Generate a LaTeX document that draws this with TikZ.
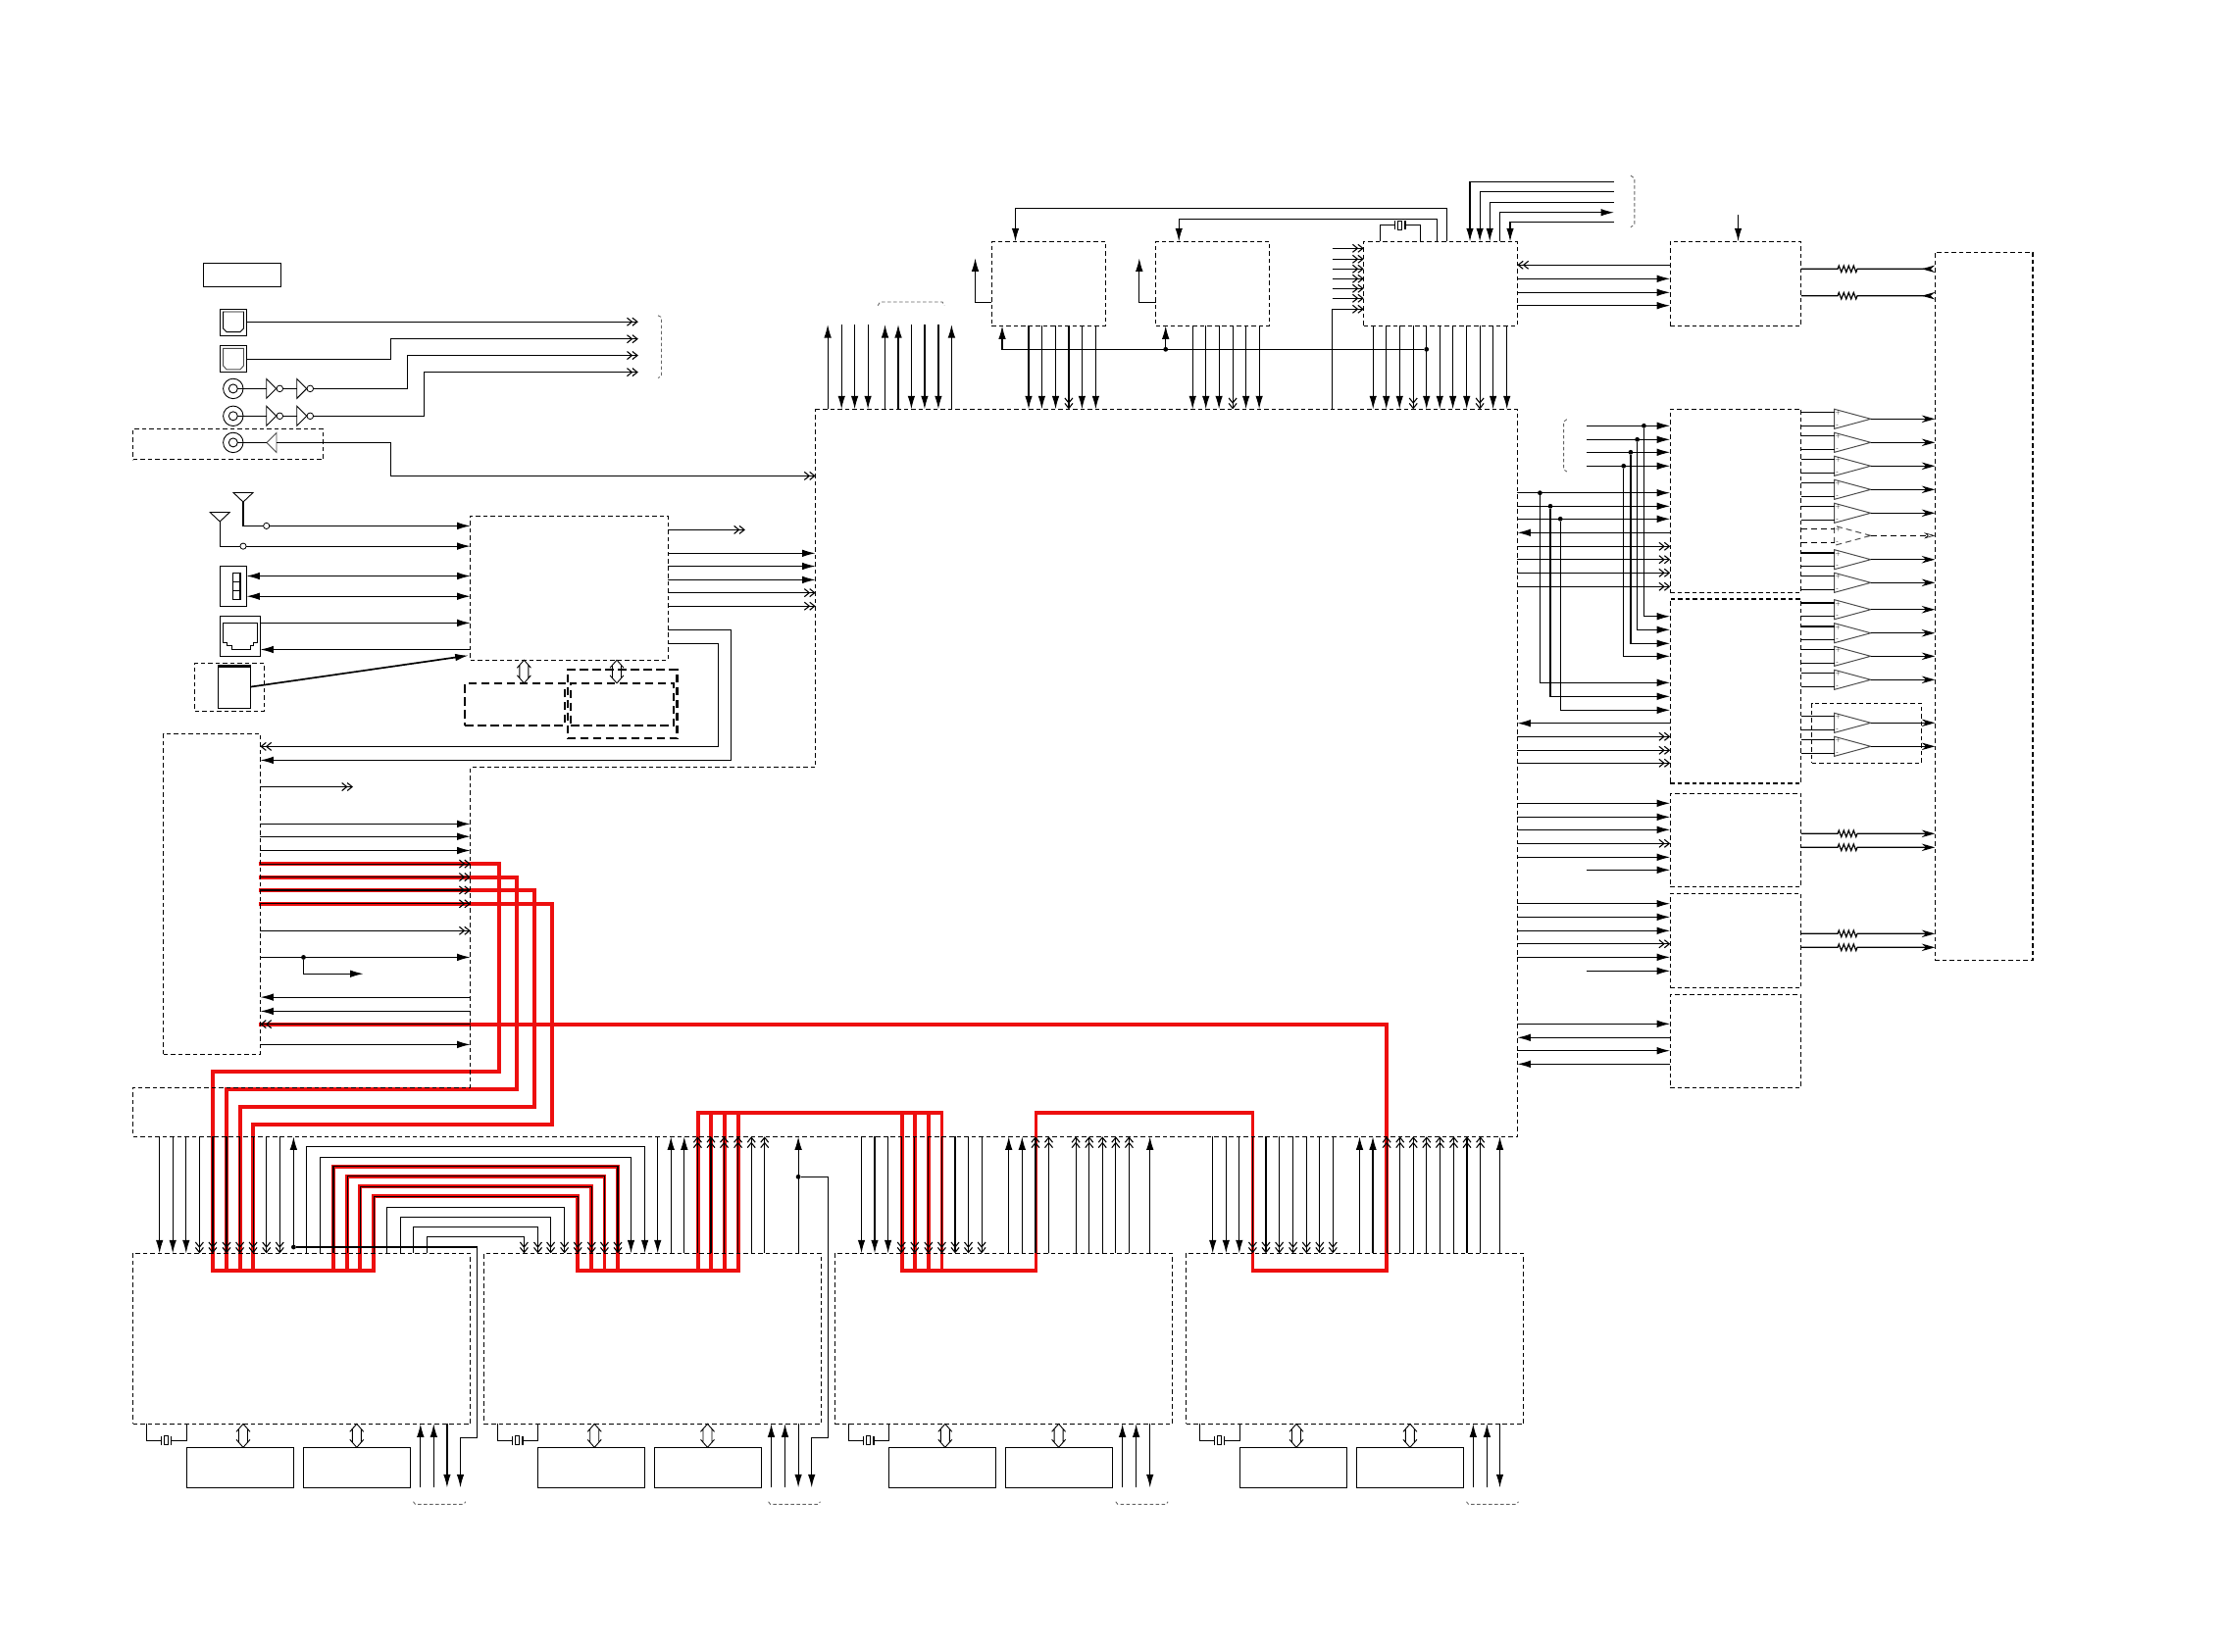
\documentclass[tikz,border=0pt]{standalone}
\usepackage{tikz}
\usetikzlibrary{arrows.meta,calc,shapes.geometric,decorations.pathmorphing}

\definecolor{hotred}{rgb}{0.93,0.06,0.06}

\newcommand{\bx}[6]{\node[#1, minimum width={(#5-#3)*0.1mm}, minimum height={(#6-#4)*0.1mm}] (#2) at ({(#3+#5)/2},{(#4+#6)/2}) {};}
\newcommand{\coax}[3]{\node[coaxo] (#1o) at (#2,#3) {}; \node[coaxi] (#1i) at (#2,#3) {};}
\newcommand{\inverter}[3]{\node[tri, anchor=lower side] (#1) at (#2,#3) {}; \node[bub] (#1b) at ({#2+13.6},#3) {};}
\newcommand{\xtal}[6]{\node[xt] (#1) at (#3,#4) {};
  \draw (#2 -| #5,0) |- ({#3-5.3},#4); \draw ({#3-5.3},{#4-4.5}) -- ({#3-5.3},{#4+4.5});
  \draw (#2 -| #6,0) |- ({#3+5.3},#4); \draw ({#3+5.3},{#4-4.5}) -- ({#3+5.3},{#4+4.5});}
\newcommand{\hol}[3]{\coordinate (holT) at (#2 -| #1,0); \coordinate (holB) at (#3 -| #1,0);
  \draw[line width=.09mm] ($(holT)+(-7,8)$) -- (holT) -- ($(holT)+(7,8)$)
    ($(holB)+(-7,-8)$) -- (holB) -- ($(holB)+(7,-8)$)
    ($(holT)+(-4.5,5.5)$) -- ($(holB)+(-4.5,-5.5)$)
    ($(holT)+(4.5,5.5)$) -- ($(holB)+(4.5,-5.5)$);}

\begin{document}
\begin{tikzpicture}[
  x=0.1mm, y=-0.1mm,
  line width=.12mm,
  every node/.style={inner sep=0pt, outer sep=0pt},
  dbox/.style={draw, dash pattern=on .45mm off .3mm},
  hbox/.style={draw, line width=.22mm, dash pattern=on .85mm off .45mm},
  sbox/.style={draw},
  dsh/.style={dash pattern=on .6mm off .4mm},
  sarr/.style={-{Latex[length=1.35mm,width=.75mm]}},
  sarrb/.style={{Latex[length=1.35mm,width=.75mm]}-{Latex[length=1.35mm,width=.75mm]}},
  darr/.style={-{Straight Barb[length=.5mm,width=.8mm,line width=.11mm,sep=-.1mm]Straight Barb[length=.5mm,width=.8mm,line width=.11mm]}},
  rarr/.style={-{Stealth[length=1.35mm,width=.75mm]}},
  oarr/.style={-{Stealth[length=1.1mm,width=.6mm,open,line width=.06mm]}},
  backarr/.style={-{Stealth[length=1.35mm,width=.75mm,reversed]}},
  redw/.style={draw=hotred, line width=.38mm, line join=miter, line cap=rect},
  brk/.style={draw=black!60, line width=.09mm, dash pattern=on .35mm off .25mm},
  dot/.style={circle, fill=black, minimum size=.48mm},
  ring/.style={circle, draw, fill=white, line width=.08mm, minimum size=.62mm},
  bub/.style={circle, draw, fill=white, line width=.08mm, minimum size=.66mm},
  coaxo/.style={circle, draw, line width=.09mm, minimum size=2.04mm},
  coaxi/.style={circle, draw, line width=.09mm, minimum size=.9mm},
  tri/.style={isosceles triangle, isosceles triangle stretches, draw, line width=.09mm, minimum height=1mm, minimum width=2mm},
  ampl/.style={isosceles triangle, isosceles triangle stretches, draw=black!70, line width=.1mm, minimum height=3.7mm, minimum width=2mm, anchor=lower side},
  ant/.style={isosceles triangle, isosceles triangle stretches, shape border rotate=-90, draw, line width=.09mm, minimum height=.95mm, minimum width=2mm, anchor=apex},
  xt/.style={draw, line width=.09mm, minimum width=.4mm, minimum height=.9mm},
  res/.style={decoration={zigzag, segment length=.5mm, amplitude=.33mm}},
  pm/.style={font=\fontsize{1.6}{2}\selectfont}
]
\useasboundingbox (0,0) rectangle (2268,1684);

\draw[redw]
  (265.4,881.1) -- (509.2,881.1) -- (509.2,1092.9) -- (217,1092.9) -- (217,1295.7) -- (381.3,1295.7) -- (381.3,1220.3) -- (589.2,1220.3) -- (589.2,1295.7) -- (753,1295.7) -- (753,1135) -- (711.9,1135) -- (711.9,1295.7)
  (265.4,894.6) -- (527.2,894.6) -- (527.2,1110.7) -- (231,1110.7) -- (231,1295.7)
  (265.4,907.9) -- (545.1,907.9) -- (545.1,1128.9) -- (244.6,1128.9) -- (244.6,1295.7)
  (265.4,921.8) -- (563,921.8) -- (563,1146.8) -- (258.1,1146.8) -- (258.1,1295.7)
  (340,1295.7) -- (340,1189.7) -- (630,1189.7) -- (630,1295.7)
  (354.1,1295.7) -- (354.1,1199.7) -- (616.4,1199.7) -- (616.4,1295.7)
  (367.2,1295.7) -- (367.2,1210.3) -- (603.3,1210.3) -- (603.3,1295.7)
  (725,1295.7) -- (725,1135) (739,1295.7) -- (739,1135)
  (711.9,1135) -- (960.4,1135) -- (960.4,1295.7) -- (920.2,1295.7) -- (920.2,1135)
  (933.2,1135) -- (933.2,1295.7) (946.8,1135) -- (946.8,1295.7)
  (960.4,1295.7) -- (1056.4,1295.7) -- (1056.4,1135) -- (1277.4,1135) -- (1277.4,1295.7) -- (1414.1,1295.7) -- (1414.1,1045) -- (265.4,1045);

\draw[dbox] (831.6,417.3) -- (1547.3,417.3) -- (1547.3,1159.3) -- (135.5,1159.3) -- (135.5,1109.3) -- (479.7,1109.3) -- (479.7,782.5) -- (831.6,782.5) -- cycle;
\coordinate (mainN) at (831.6,417.3);
\coordinate (mainW) at (831.6,782.5);
\coordinate (mainE) at (1547.3,1159.3);
\coordinate (mainS) at (135.5,1159.3);
\coordinate (mainL) at (479.7,1109.3);

\bx{sbox}{title}{207.3}{268.2}{286.7}{292.5}
\bx{sbox}{optA}{224.7}{315.4}{251.4}{342.5}
\bx{sbox}{optB}{224.7}{352.5}{251.4}{379.3}
\bx{dbox}{rearout}{135.5}{437.5}{329.4}{468.6}
\bx{dbox}{tuner}{479.7}{526.4}{681.3}{673.2}
\bx{sbox}{swit}{224.7}{577.5}{251.4}{618.2}
\bx{sbox}{swin}{237.3}{584.3}{245}{611.4}
\bx{sbox}{rj}{224.7}{628.2}{265.4}{669.6}
\bx{dbox}{cardw}{198.5}{676.4}{269.3}{725.4}
\bx{sbox}{card}{222.3}{679}{255.7}{722.1}
\bx{hbox}{memA}{474.3}{696.8}{575.6}{740}
\bx{hbox}{memB}{582}{696.8}{687}{740}
\bx{hbox}{memW}{578.6}{682.9}{690.5}{753.2}
\bx{dbox}{dsp}{166.5}{748.2}{265.4}{1075.4}
\bx{dbox}{boxA}{1011.4}{246.3}{1127.5}{332.3}
\bx{dbox}{boxB}{1178.6}{246.3}{1294.7}{332.3}
\bx{dbox}{boxC}{1390.7}{246.3}{1547.3}{332.3}
\bx{dbox}{boxD}{1703.2}{246.3}{1836.8}{332.3}
\bx{dbox}{boxE}{1973.2}{257.3}{2072.9}{979.3}
\bx{dbox}{boxF}{1703.2}{417.3}{1836.8}{604.3}
\bx{dbox}{boxG}{1703.2}{611}{1836.8}{799}
\bx{dbox}{boxH}{1703.2}{809.3}{1836.8}{904.3}
\bx{dbox}{boxI}{1703.2}{911.3}{1836.8}{1007.7}
\bx{dbox}{boxJ}{1703.2}{1014.3}{1836.8}{1109.3}
\bx{dbox}{ampw}{1847.5}{717.3}{1959.6}{778.3}
\bx{dbox}{dec1}{135.5}{1278.3}{479.7}{1452.3}
\bx{dbox}{dec2}{493.7}{1278.3}{837.4}{1452.3}
\bx{dbox}{dec3}{851.3}{1278.3}{1195.5}{1452.3}
\bx{dbox}{dec4}{1209.5}{1278.3}{1553.7}{1452.3}
\bx{sbox}{ram1a}{190.3}{1476.3}{299.4}{1517.3}
\bx{sbox}{ram1b}{309.5}{1476.3}{418.6}{1517.3}
\bx{sbox}{ram2a}{548.5}{1476.3}{657.6}{1517.3}
\bx{sbox}{ram2b}{667.7}{1476.3}{776.3}{1517.3}
\bx{sbox}{ram3a}{906.6}{1476.3}{1015.7}{1517.3}
\bx{sbox}{ram3b}{1025.3}{1476.3}{1134.4}{1517.3}
\bx{sbox}{ram4a}{1264.3}{1476.3}{1373.4}{1517.3}
\bx{sbox}{ram4b}{1383.6}{1476.3}{1492.6}{1517.3}

\draw[line width=.09mm] (227.6,318) -- (248.5,318) -- (248.5,335) -- (245,338.6) -- (231,338.6) -- (227.6,335) -- cycle;
\draw[line width=.09mm, draw=black!70] (227.6,355.4) -- (248.5,355.4) -- (248.5,373) -- (245,376.8) -- (231,376.8) -- (227.6,373) -- cycle;
\draw[line width=.09mm] (227.6,635.4) -- (262,635.4) -- (262,655) -- (258.6,655) -- (258.6,658.6) -- (255.7,658.6) -- (255.7,662.5) -- (236.3,662.5) -- (236.3,658.6) -- (231.5,658.6) -- (231.5,655) -- (227.6,655) -- cycle;
\draw (swin.west |- 0,593.3) -- (swin.east |- 0,593.3);
\draw (swin.west |- 0,602.4) -- (swin.east |- 0,602.4);
\draw[line width=.3mm] (card.north west) -- (card.north east);

\coax{coaxA}{237.8}{396.4}
\coax{coaxB}{237.8}{424.3}
\coax{coaxC}{237.8}{451.4}
\inverter{invA}{271.7}{396.4}
\inverter{invB}{302.7}{396.4}
\inverter{invC}{271.7}{424.3}
\inverter{invD}{302.7}{424.3}
\node[tri, shape border rotate=180, anchor=lower side, draw=black!70] (drv) at (282,451.4) {};

\draw[darr] (optA.east |- 0,328.2) -- (650.8,328.2);
\draw[darr] (optB.east |- 0,366.4) -| (398.7,345.7) -- (650.8,345.7);
\draw (coaxAi.east) -- (invA.lower side);
\draw (invAb.east) -- (invB.lower side);
\draw[darr] (invBb.east) -| (415.7,362.5) -- (650.8,362.5);
\draw (coaxBi.east) -- (invC.lower side);
\draw (invCb.east) -- (invD.lower side);
\draw[darr] (invDb.east) -| (432.7,379.6) -- (650.8,379.6);
\draw (coaxCi.east) -- (drv.apex);
\draw[darr] (drv.lower side) -| (398.7,485.4) -- (mainN |- 0,485.4);
\draw[brk] (671,321.8) -- (674.5,323.5) -- (674.5,384) -- (671,385.4);

\node[ant] (antA) at (248,512) {};
\node[ant] (antB) at (224.2,532) {};
\draw[sarr] (antA.apex) |- (tuner.west |- 0,536.4);
\draw[sarr] (antB.apex) |- (tuner.west |- 0,557.1);
\node[ring] (ringA) at (271.7,536.4) {};
\node[ring] (ringB) at (248,557.1) {};
\foreach \y in {587.5,608.2} \draw[sarrb] (swit.east |- 0,\y) -- (tuner.west |- 0,\y);
\draw[sarr] (rj.east |- 0,635.4) -- (tuner.west |- 0,635.4);
\draw[sarr] (tuner.west |- 0,662.5) -- (rj.east |- 0,662.5);
\draw[sarr, line width=.17mm] (card.east) -- (477.7,668.6);
\draw[darr] (tuner.east |- 0,540.4) -- (759.9,540.4);
\foreach \y in {564.3,577.5,591.4} \draw[sarr] (tuner.east |- 0,\y) -- (mainN |- 0,\y);
\foreach \y in {604.6,618.2} \draw[darr] (tuner.east |- 0,\y) -- (mainN |- 0,\y);
\draw[sarr] (tuner.east |- 0,642.5) -| (745.3,775.4) -- (dsp.east |- 0,775.4);
\draw[darr] (tuner.east |- 0,656.4) -| (732.7,761.4) -- (dsp.east |- 0,761.4);
\hol{534.4}{tuner.south}{memA.north}
\hol{629}{tuner.south}{memB.north}

\draw[darr] (dsp.east |- 0,802.5) -- (360,802.5);
\foreach \y in {840.4,853.2,867.5,976.4,1065.4} \draw[sarr] (dsp.east |- 0,\y) -- (mainL |- 0,\y);
\foreach \y in {881.1,894.6,907.9,921.8,949.3} \draw[darr] (dsp.east |- 0,\y) -- (mainL |- 0,\y);
\node[dot] (dotD) at (309.5,976.4) {};
\draw[sarr] (dotD) |- (370.6,993.2);
\foreach \y in {1017.1,1031.4} \draw[sarr] (mainL |- 0,\y) -- (dsp.east |- 0,\y);
\draw[darr] (mainL |- 0,1044.6) -- (dsp.east |- 0,1044.6);

\foreach \x in {162.7,176.2,189.8} \draw[sarr] (mainS -| \x,0) -- (dec1.north -| \x,0);
\foreach \x in {203.4,216.9,231,244.6,258.1,271.7,285.3} \draw[darr] (mainS -| \x,0) -- (dec1.north -| \x,0);
\node[dot] (dotB1) at (299.4,1272) {};
\draw[sarr] (dotB1) -- (mainS -| 299.4,0);
\draw[sarr] (dotB1) -| (486.5,1466.3) -| (469.5,1517.3);
\foreach \a/\b/\yy in {312.4/657.6/1169.3,326.5/643.5/1180.3} \draw[sarr] (dec1.north -| \a,0) |- (\b,\yy) -- (dec2.north -| \b,0);
\draw[sarr] (mainS -| 670.7,0) -- (dec2.north -| 670.7,0);
\foreach \a/\b/\yy in {340/630/1189.7,354.1/616.4/1199.7,367.2/603.3/1210.3,381.3/589.2/1220.3,394.4/575.6/1231.3,408.4/561.6/1241.3,421.5/548.5/1251.7,435.6/534.4/1261.7} \draw[darr] (dec1.north -| \a,0) |- (\b,\yy) -- (dec2.north -| \b,0);
\foreach \x in {684.2,697.8} \draw[sarr] (dec2.north -| \x,0) -- (mainS -| \x,0);
\foreach \x in {711.4,725,738.5,752.6,766.2,779.7} \draw[darr] (dec2.north -| \x,0) -- (mainS -| \x,0);
\draw[sarr] (dec2.north -| 814.1,0) -- (mainS -| 814.1,0);
\node[dot] (dotB2) at (814.1,1200.3) {};
\draw[sarr] (dotB2) -| (844.7,1466.3) -| (827.7,1517.3);

\foreach \x in {878.5,892,905.6} \draw[sarr] (mainS -| \x,0) -- (dec3.north -| \x,0);
\foreach \x in {919.2,932.8,946.8,960.4,974,987.5,1001.1} \draw[darr] (mainS -| \x,0) -- (dec3.north -| \x,0);
\foreach \x in {1028.7,1042.3,1172.7} \draw[sarr] (dec3.north -| \x,0) -- (mainS -| \x,0);
\foreach \x in {1055.9,1069.5,1097.1,1110.7,1124.2,1137.8,1151.4} \draw[darr] (dec3.north -| \x,0) -- (mainS -| \x,0);
\foreach \x in {1236.7,1250.3,1263.8} \draw[sarr] (mainS -| \x,0) -- (dec4.north -| \x,0);
\foreach \x in {1277.4,1291,1304.6,1318.6,1332.2,1345.8,1359.3} \draw[darr] (mainS -| \x,0) -- (dec4.north -| \x,0);
\foreach \x in {1386.5,1400,1529.5} \draw[sarr] (dec4.north -| \x,0) -- (mainS -| \x,0);
\foreach \x in {1414.1,1427.7,1441.2,1454.8,1468.4,1482.5,1496,1509.6} \draw[darr] (dec4.north -| \x,0) -- (mainS -| \x,0);

\xtal{xtal1}{dec1.south}{169.4}{1469.3}{149.6}{190.3}
\xtal{xtal2}{dec2.south}{527.7}{1469.3}{507.3}{548.5}
\xtal{xtal3}{dec3.south}{885.7}{1469.3}{865.4}{906.6}
\xtal{xtal4}{dec4.south}{1243.5}{1469.3}{1223.6}{1264.3}
\foreach \dc/\ra/\rb/\xa/\xb in {dec1/ram1a/ram1b/248/363.8,dec2/ram2a/ram2b/606.2/721.5,dec3/ram3a/ram3b/963.8/1079.6,dec4/ram4a/ram4b/1322/1437.9} {
  \hol{\xa}{\dc.south}{\ra.north}
  \hol{\xb}{\dc.south}{\rb.north}
}
\foreach \dc/\x in {dec1/428.8,dec1/442.3,dec2/786.5,dec2/800.5,dec3/1144.6,dec3/1158.6,dec4/1502.3,dec4/1516.4} \draw[sarr] (\x,1517.3) -- (\dc.south -| \x,0);
\foreach \dc/\x in {dec1/455.9,dec2/814.1,dec3/1172.7,dec4/1529.5} \draw[sarr] (\dc.south -| \x,0) -- (\x,1517.3);
\draw[brk] (421.5,1531.7) -- (423.5,1534.3) -- (473,1534.3) -- (474.8,1531.7);
\draw[brk] (783.6,1531.7) -- (785.6,1534.3) -- (834.6,1534.3) -- (836.4,1531.7);
\draw[brk] (1137.8,1531.7) -- (1139.8,1534.3) -- (1189.3,1534.3) -- (1191.1,1531.7);
\draw[brk] (1495.5,1531.7) -- (1497.5,1534.3) -- (1546.6,1534.3) -- (1548.4,1531.7);

\foreach \x in {844.1,902.5,916,970.4} \draw[sarr] (mainN -| \x,0) -- (\x,331);
\foreach \x in {858.2,871.6,885.1,929.4,942.9,956.9} \draw[sarr] (\x,331) -- (mainN -| \x,0);
\draw[brk] (895.2,311.7) -- (897.5,308) -- (961,308) -- (963.1,311.7);
\foreach \x in {1049,1062.4,1076.5,1103.4,1117.4} \draw[sarr] (boxA.south -| \x,0) -- (mainN -| \x,0);
\draw[darr] (boxA.south -| 1089.9,0) -- (mainN -| 1089.9,0);
\foreach \x in {1216.2,1229.7,1243.1,1270.6,1284.1} \draw[sarr] (boxB.south -| \x,0) -- (mainN -| \x,0);
\draw[darr] (boxB.south -| 1257.1,0) -- (mainN -| 1257.1,0);
\foreach \x in {1400.2,1413.7,1427.2,1454.7,1468.2,1481.6,1495.7,1522.6,1536.7} \draw[sarr] (boxC.south -| \x,0) -- (mainN -| \x,0);
\foreach \x in {1441.2,1509.1} \draw[darr] (boxC.south -| \x,0) -- (mainN -| \x,0);
\node[dot] (dotT1) at (1454.7,356.3) {};
\node[dot] (dotT2) at (1188.7,356.3) {};
\draw[sarr] (dotT1) -| (boxA.south -| 1022,0);
\draw[sarr] (dotT2) -- (boxB.south -| 1188.7,0);
\draw[sarr] (boxA.west |- 0,308.3) -| (994.5,263.3);
\draw[sarr] (boxB.west |- 0,308.3) -| (1161.8,263.3);
\draw[sarr] (boxC.north -| 1475.5,0) |- (1035.5,212.3) -- (boxA.north -| 1035.5,0);
\draw[sarr] (boxC.north -| 1465.3,0) |- (1202.2,223.3) -- (boxB.north -| 1202.2,0);
\xtal{xtal5}{boxC.north}{1427.7}{229.7}{1407.5}{1448.5}
\foreach \y in {253.3,264.3,274.3,284.3,294.3,304.3} \draw[darr] (1358.7,\y) -- (boxC.west |- 0,\y);
\draw[darr] (mainN -| 1358.7,0) |- (boxC.west |- 0,315.3);
\foreach \x/\y in {1499/185.3,1509.1/195.3,1519.2/206.3,1540/226.3} \draw[sarr] (1646,\y) -| (boxC.north -| \x,0);
\draw[sarr] (boxC.north -| 1529.3,0) |- (1646,216.7);
\draw[brk] (1662.9,179) -- (1666.8,182) -- (1666.8,229) -- (1662.9,231.7);

\draw[darr] (boxD.west |- 0,270.3) -- (boxC.east |- 0,270.3);
\foreach \y in {284.3,298.3,311.7} \draw[sarr] (boxC.east |- 0,\y) -- (boxD.west |- 0,\y);
\draw[sarr] (1772.5,219.3) -- (boxD.north -| 1772.5,0);
\foreach \y in {274.3,301.7} \draw[backarr] (boxD.east |- 0,\y) -- (1874,\y) decorate[res,decorate] {-- (1894.3,\y)} -- (boxE.west |- 0,\y);

\foreach \i/\y/\bxs/\ln/\tp in {1/427.3/boxF/solid/rarr,2/451.3/boxF/solid/rarr,3/475.3/boxF/solid/rarr,4/499.3/boxF/solid/rarr,5/523.3/boxF/solid/rarr,6/546.3/boxF/dsh/oarr,7/570.7/boxF/solid/rarr,8/594.3/boxF/solid/rarr,9/621.7/boxG/solid/rarr,10/645.7/boxG/solid/rarr,11/669.3/boxG/solid/rarr,12/693.3/boxG/solid/rarr,13/737.3/boxG/solid/rarr,14/761.3/boxG/solid/rarr} {
  \node[ampl, \ln] (amp\i) at (1870.7,\y) {};
  \node[pm] (ampP\i) at (1874.3,\y-6) {+};
  \node[pm] (ampM\i) at (1873.7,\y+7.5) {-};
  \draw[\ln] (\bxs.east |- 0,\y-6.7) -- (amp\i.lower side |- 0,\y-6.7);
  \draw[\ln] (\bxs.east |- 0,\y+7) -- (amp\i.lower side |- 0,\y+7);
  \draw[\ln, \tp] (amp\i.apex) -- (boxE.west |- 0,\y);
}

\foreach \y in {434.3,448.3,461.3,475.3} \draw[sarr] (1618.2,\y) -- (boxF.west |- 0,\y);
\draw[brk] (1597.9,427.7) -- (1594.6,430) -- (1594.6,479) -- (1597.9,481);
\foreach \i/\x/\y/\yy in {1/1676.4/434.3/628.7,2/1669.6/448.3/642.3,3/1662.9/461.3/656.3,4/1655.7/475.3/669.3} {
  \node[dot] (dotF\i) at (\x,\y) {};
  \draw[sarr] (dotF\i) |- (boxG.west |- 0,\yy);
}
\foreach \y in {502.7,516.3,529.3} \draw[sarr] (boxC.east |- 0,\y) -- (boxF.west |- 0,\y);
\draw[sarr] (boxF.west |- 0,543.3) -- (boxC.east |- 0,543.3);
\foreach \y in {557.3,570.7,584.3,598.3} \draw[darr] (boxC.east |- 0,\y) -- (boxF.west |- 0,\y);
\foreach \i/\x/\y/\yy in {5/1570.4/502.7/696.3,6/1581/516.3/710.3,7/1591.2/529.3/724.3} {
  \node[dot] (dotF\i) at (\x,\y) {};
  \draw[sarr] (dotF\i) |- (boxG.west |- 0,\yy);
}
\draw[sarr] (boxG.west |- 0,737.7) -- (boxC.east |- 0,737.7);
\foreach \y in {751.3,765.3,778.3} \draw[darr] (boxC.east |- 0,\y) -- (boxG.west |- 0,\y);

\foreach \y in {819.3,833.3,846.3,874.3} \draw[sarr] (boxC.east |- 0,\y) -- (boxH.west |- 0,\y);
\draw[darr] (boxC.east |- 0,860.3) -- (boxH.west |- 0,860.3);
\draw[sarr] (1618.2,887.3) -- (boxH.west |- 0,887.3);
\foreach \y in {921.7,935.3,949.3,976.3} \draw[sarr] (boxC.east |- 0,\y) -- (boxI.west |- 0,\y);
\draw[darr] (boxC.east |- 0,962.7) -- (boxI.west |- 0,962.7);
\draw[sarr] (1618.2,990.3) -- (boxI.west |- 0,990.3);
\foreach \y/\bxs in {850.3/boxH,864.3/boxH,952.3/boxI,966.3/boxI} \draw[rarr] (\bxs.east |- 0,\y) -- (1874,\y) decorate[res,decorate] {-- (1894.3,\y)} -- (boxE.west |- 0,\y);
\foreach \y in {1044.3,1071.7} \draw[sarr] (boxC.east |- 0,\y) -- (boxJ.west |- 0,\y);
\foreach \y in {1058.3,1085.3} \draw[sarr] (boxJ.west |- 0,\y) -- (boxC.east |- 0,\y);
\end{tikzpicture}
\end{document}
